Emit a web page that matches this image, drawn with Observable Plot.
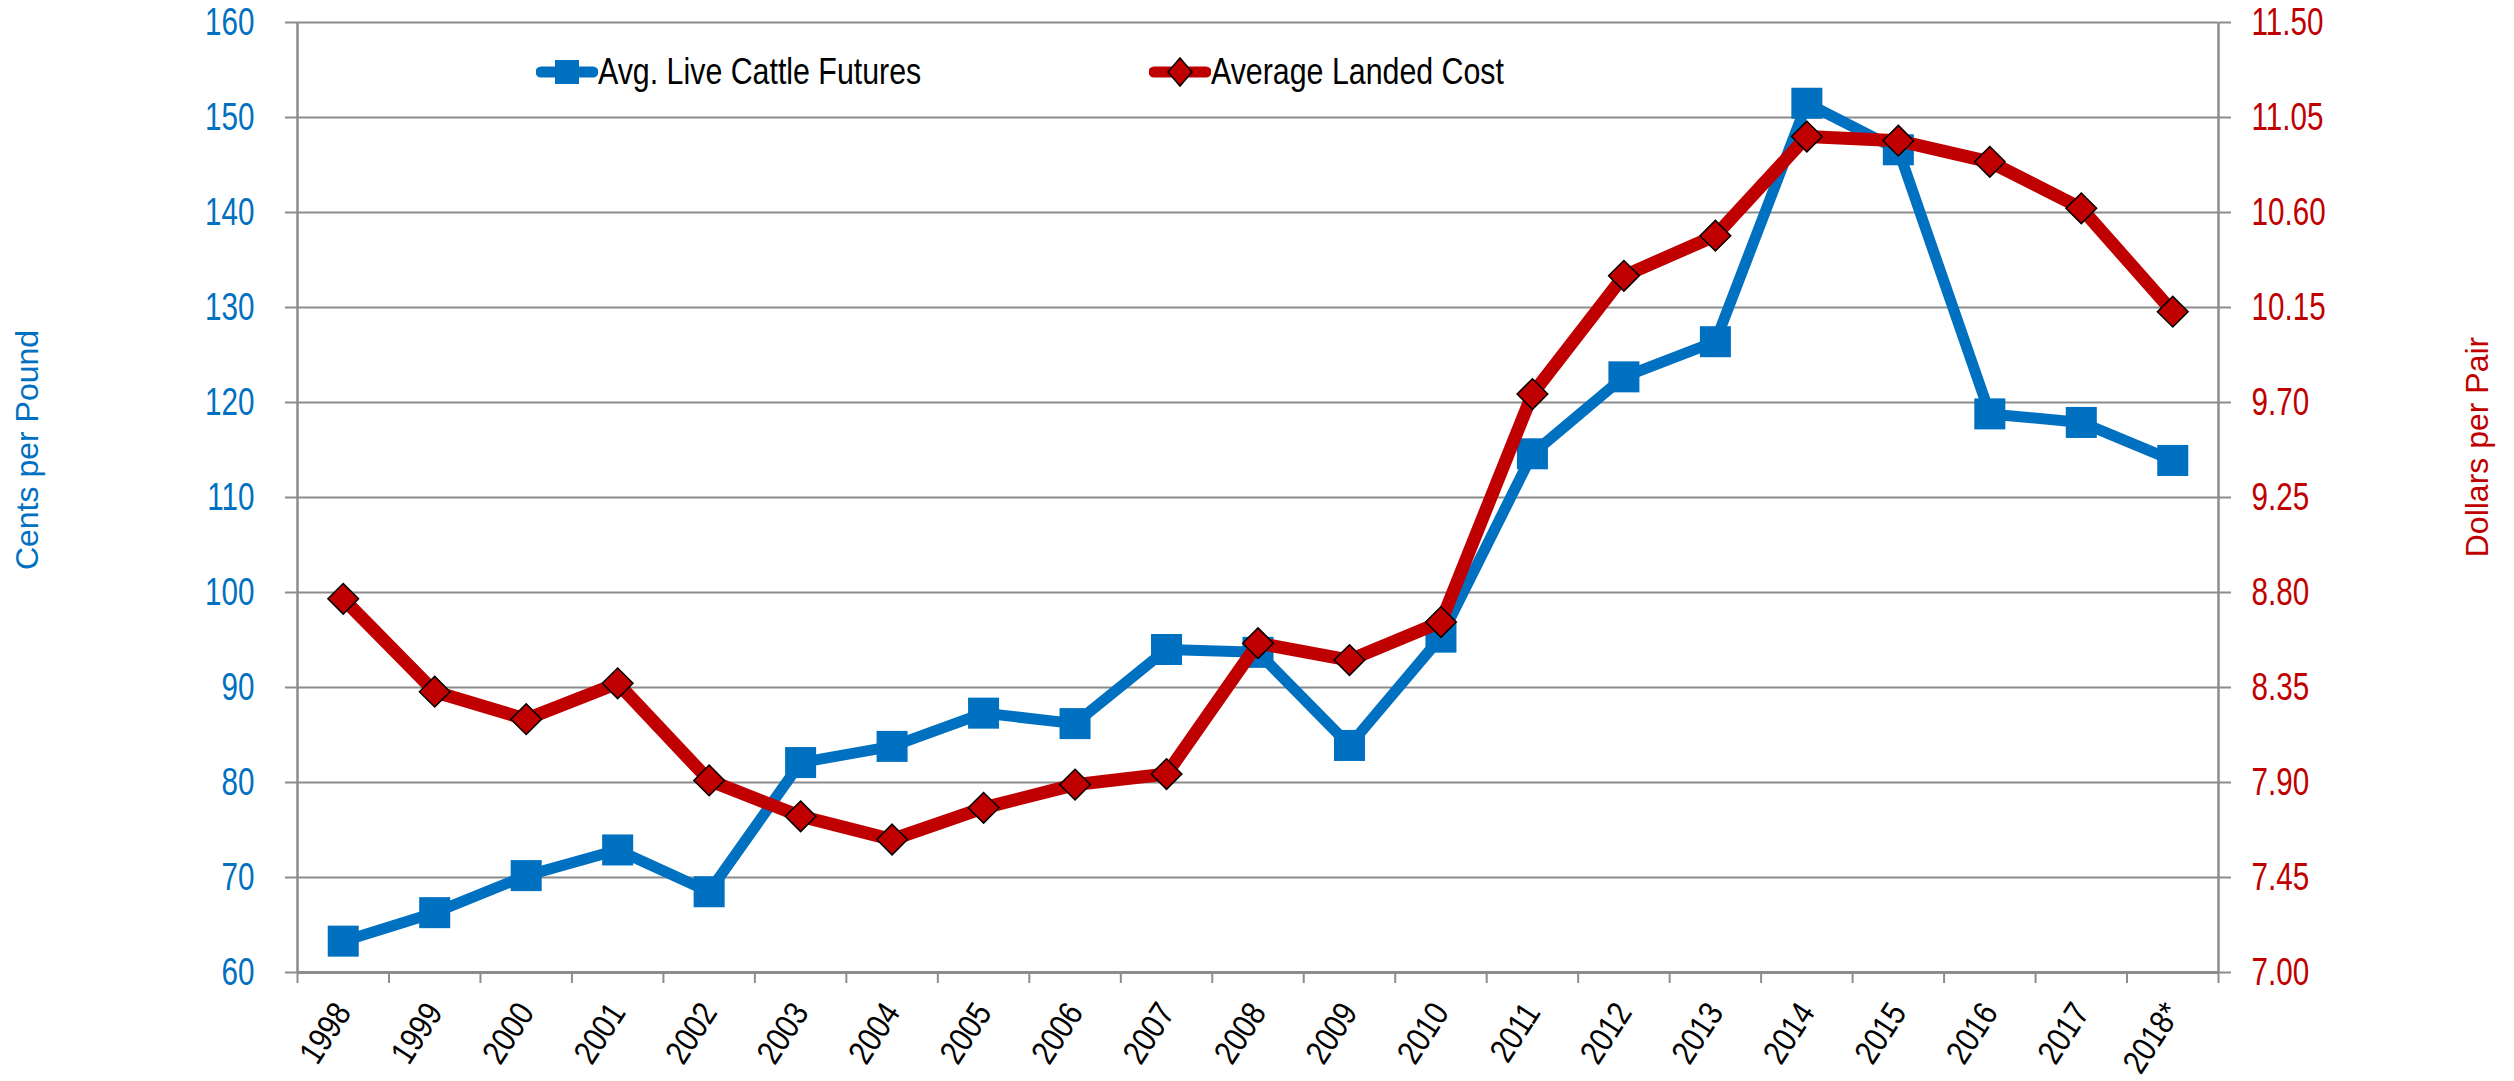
<!DOCTYPE html>
<html><head><meta charset="utf-8">
<script src="https://cdn.jsdelivr.net/npm/d3@7"></script>
<script src="https://cdn.jsdelivr.net/npm/@observablehq/plot@0.6"></script>
<style>
html,body{margin:0;padding:0;background:#fff;}
#wrap{position:relative;width:2514px;height:1081px;overflow:hidden;background:#fff;}
#wrap > svg{position:absolute;left:0;top:0;}
.ytitle{position:absolute;font-family:"Liberation Sans",Arial,sans-serif;font-size:32px;white-space:nowrap;transform:translate(-50%,-50%) rotate(-90deg);}
.leg{position:absolute;top:72px;height:40px;margin-top:-20px;display:flex;align-items:center;font-family:"Liberation Sans",Arial,sans-serif;font-size:37px;color:#000;white-space:nowrap;}
.leg svg{display:block;flex:none;}
.leg span{display:inline-block;transform:scaleX(0.82);transform-origin:left center;}
</style></head><body><div id="wrap"></div><script>
const years = ["1998","1999","2000","2001","2002","2003","2004","2005","2006","2007","2008","2009","2010","2011","2012","2013","2014","2015","2016","2017","2018*"];
const cattle = [63.3, 66.3, 70.2, 72.9, 68.5, 82.1, 83.8, 87.3, 86.2, 94.0, 93.7, 83.9, 95.3, 114.6, 122.7, 126.4, 151.5, 146.6, 118.8, 117.9, 113.9];
const landed = [8.77, 8.33, 8.20, 8.37, 7.91, 7.74, 7.63, 7.78, 7.89, 7.94, 8.56, 8.48, 8.66, 9.74, 10.30, 10.49, 10.96, 10.94, 10.84, 10.62, 10.13];
const leftTicks = [60, 70, 80, 90, 100, 110, 120, 130, 140, 150, 160];
const rightTickLabels = ["7.00","7.45","7.90","8.35","8.80","9.25","9.70","10.15","10.60","11.05","11.50"];
const seriesNames = ["Avg. Live Cattle Futures", "Average Landed Cost"];
const axisTitles = ["Cents per Pound", "Dollars per Pair"];

const BLUE = "#0070C0", RED = "#C00000", GRID = "#8c8c8c";
const FONT = '"Liberation Sans",Arial,sans-serif';

// right-axis values (dollars) mapped onto the left-axis scale
const rMin = +rightTickLabels[0], rMax = +rightTickLabels[rightTickLabels.length-1];
const lMin = leftTicks[0], lMax = leftTicks[leftTicks.length-1];
const toLeft = v => lMin + (v - rMin) / (rMax - rMin) * (lMax - lMin);
const cattleData = years.map((y, i) => ({i, v: cattle[i]}));
const landedData = years.map((y, i) => ({i, v: toLeft(landed[i])}));
const edges = d3.range(years.length + 1).map(k => k - 0.5);
const centers = d3.range(years.length);

const chart = Plot.plot({
  width: 2514, height: 1081,
  marginLeft: 297, marginRight: 296, marginTop: 22, marginBottom: 109,
  x: {type: "linear", domain: [-0.5, years.length - 0.5], axis: null},
  y: {domain: [lMin, lMax], axis: null},
  style: {background: "#fff", overflow: "visible", fontFamily: FONT},
  marks: [
    Plot.gridY(leftTicks, {stroke: GRID, strokeOpacity: 1, strokeWidth: 2}),
    Plot.axisY(leftTicks, {anchor: "left", tickSize: 12, tickPadding: 31, stroke: GRID, strokeWidth: 2, fill: BLUE, fontSize: 39, fontFamily: FONT, label: null}),
    Plot.axisY(leftTicks, {anchor: "right", tickSize: 12, tickPadding: 21, stroke: GRID, strokeWidth: 2, fill: RED, fontSize: 39, fontFamily: FONT, tickFormat: d => rightTickLabels[leftTicks.indexOf(d)], label: null}),
    Plot.ruleX([edges[0], edges[edges.length - 1]], {stroke: GRID, strokeWidth: 2.5}),
    Plot.ruleY([lMin], {stroke: GRID, strokeWidth: 3}),
    Plot.axisX(edges, {tickSize: 11, tickFormat: () => "", stroke: GRID, strokeWidth: 2, label: null}),
    Plot.axisX(centers, {tickSize: 0, tickPadding: 34, tickRotate: -57, tickFormat: i => years[i], fontSize: 34, fontFamily: FONT, fill: "#000", label: null}),
    Plot.line(cattleData, {x: "i", y: "v", stroke: BLUE, strokeWidth: 11}),
    Plot.dot(cattleData, {x: "i", y: "v", symbol: "square", r: 17.5, fill: BLUE, stroke: "none"}),
    Plot.line(landedData, {x: "i", y: "v", stroke: RED, strokeWidth: 13}),
    Plot.dot(landedData, {x: "i", y: "v", symbol: "diamond2", r: 13.8, fill: RED, stroke: "#000", strokeWidth: 1.5})
  ]
});
const wrap = document.getElementById("wrap");
wrap.appendChild(chart);

// condense tick labels horizontally (narrow face of the reference)
chart.querySelectorAll('[aria-label="y-axis tick label"] text').forEach(t => {
  t.setAttribute("transform", (t.getAttribute("transform") || "") + " scale(0.76,1)");
});
chart.querySelectorAll('[aria-label="x-axis tick label"] text').forEach(t => {
  t.setAttribute("transform", (t.getAttribute("transform") || "") + " scale(0.85,1)");
});

function addTitle(text, x, y, color) {
  const d = document.createElement("div");
  d.className = "ytitle";
  d.style.left = x + "px"; d.style.top = y + "px"; d.style.color = color;
  d.textContent = text;
  wrap.appendChild(d);
}
addTitle(axisTitles[0], 27, 450, BLUE);
addTitle(axisTitles[1], 2477, 447, RED);

function addLegend(text, x, color, kind) {
  const d = document.createElement("div");
  d.className = "leg";
  d.style.left = x + "px";
  const marker = kind === "square"
    ? `<rect x="19" y="8" width="24" height="24" fill="${color}"/>`
    : `<path d="M31,6 L43,20 L31,34 L19,20 Z" fill="${color}" stroke="#000" stroke-width="1.5"/>`;
  d.innerHTML = `<svg width="62" height="40"><line x1="5" x2="57" y1="20" y2="20" stroke="${color}" stroke-width="11" stroke-linecap="round"/>${marker}</svg><span>${text}</span>`;
  wrap.appendChild(d);
}
addLegend(seriesNames[0], 536, BLUE, "square");
addLegend(seriesNames[1], 1149, RED, "diamond");
</script></body></html>
